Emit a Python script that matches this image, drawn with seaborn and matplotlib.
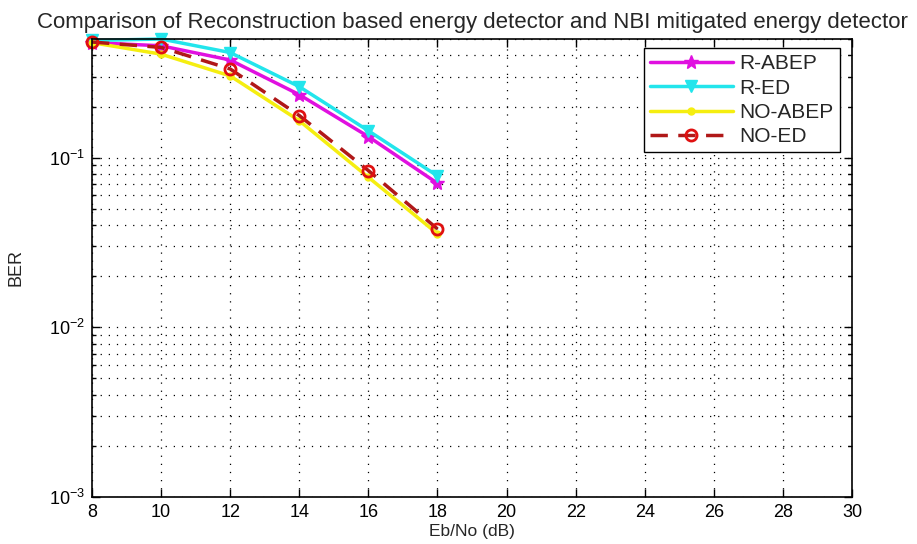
import matplotlib
matplotlib.use("Agg")
import matplotlib.pyplot as plt
import seaborn as sns
import numpy as np
import pandas as pd
from matplotlib.ticker import LogLocator, NullFormatter, FixedLocator

# ---- data ----
snr_db = [8, 10, 12, 14, 16, 18]
r_abep = [0.476, 0.456, 0.376, 0.235, 0.133, 0.0706]
r_ed = [0.490, 0.500, 0.416, 0.262, 0.144, 0.078]
no_abep = [0.476, 0.407, 0.303, 0.165, 0.0766, 0.0356]
no_ed = [0.480, 0.446, 0.333, 0.177, 0.0839, 0.038]
series_names = ["R-ABEP", "R-ED", "NO-ABEP", "NO-ED"]
x_ticks = [8, 10, 12, 14, 16, 18, 20, 22, 24, 26, 28, 30]

title = "Comparison of Reconstruction based energy detector and NBI mitigated energy detector"
xlabel = "Eb/No (dB)"
ylabel = "BER"

sns.set_theme(style="white")
plt.rcParams['font.family'] = ['Liberation Sans', 'DejaVu Sans']
plt.rcParams['mathtext.fontset'] = 'custom'
plt.rcParams['mathtext.rm'] = 'Liberation Sans'
plt.rcParams['mathtext.it'] = 'Liberation Sans'
plt.rcParams['mathtext.default'] = 'regular'

fig = plt.figure(figsize=(9.17, 5.44), dpi=100)
ax = fig.add_axes([92/917, 1-497/544, (852-92)/917, (497-39)/544])

df = pd.DataFrame({
    "x": snr_db * 4,
    "y": r_abep + r_ed + no_abep + no_ed,
    "s": sum([[n] * len(snr_db) for n in series_names], []),
})

styles = {
    "R-ABEP": dict(color="#E010E0", marker="*", markersize=10, linestyle="-", mfc="#E010E0", mec="#E010E0"),
    "R-ED": dict(color="#22E5EC", marker="v", markersize=9, linestyle="-", mfc="#22E5EC", mec="#22E5EC"),
    "NO-ABEP": dict(color="#F5EE10", marker=".", markersize=10, linestyle="-", mfc="#F5EE10", mec="#F5EE10"),
    "NO-ED": dict(color="#B01818", marker="o", markersize=8, linestyle="--", mfc="none", mec="#E01010", mew=2),
}

for name in series_names:
    st = styles[name]
    sub = df[df["s"] == name]
    sns.lineplot(data=sub, x="x", y="y", ax=ax, label=name, color=st["color"],
                 marker=st["marker"], markersize=st["markersize"], linewidth=2.5,
                 markerfacecolor=st["mfc"], markeredgecolor=st["mec"],
                 markeredgewidth=st.get("mew", 1), estimator=None)
    line = ax.get_lines()[-1]
    line.set_linestyle(st["linestyle"])
    if st["linestyle"] == "--":
        line.set_dashes((5, 3))
    line.set_clip_on(False)

ax.set_yscale("log")
ax.set_xlim(8, 30)
ax.set_ylim(1e-3, 0.5)
ax.xaxis.set_major_locator(FixedLocator(x_ticks))
ax.yaxis.set_major_locator(LogLocator(base=10, numticks=10))
ax.yaxis.set_minor_locator(LogLocator(base=10, subs=np.arange(2, 10), numticks=20))
ax.yaxis.set_minor_formatter(NullFormatter())

ax.grid(True, which="major", color="black", linestyle=(0, (1, 5.5)), linewidth=0.9)
ax.grid(True, which="minor", axis="y", color="black", linestyle=(0, (1, 5.5)), linewidth=0.9)

ax.tick_params(which="both", direction="in", top=True, right=True, bottom=True, left=True,
               labelsize=13, colors="black", pad=5)
ax.tick_params(which="major", length=6, width=1)
ax.tick_params(which="minor", length=3, width=1)
for sp in ax.spines.values():
    sp.set_color("black")
    sp.set_linewidth(1.2)

ax.set_title(title, fontsize=16, pad=8)
ax.set_xlabel(xlabel, fontsize=12.5, labelpad=2)
ax.set_ylabel(ylabel, fontsize=13, labelpad=18)

leg = ax.legend(loc="upper right", bbox_to_anchor=(0.984, 0.98), fontsize=15,
                frameon=True, fancybox=False, edgecolor="black", framealpha=1,
                handlelength=4.0, handletextpad=0.3, borderpad=0.3, labelspacing=0.25,
                borderaxespad=0)
leg.get_frame().set_linewidth(1.0)

fig.savefig("out.png", dpi=100)
